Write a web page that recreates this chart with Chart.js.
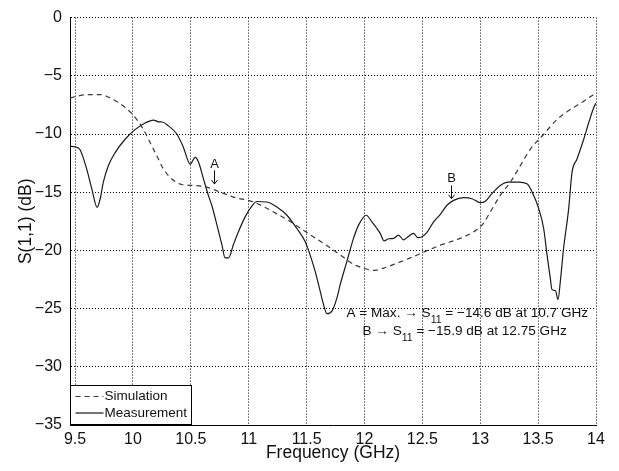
<!DOCTYPE html>
<html>
<head>
<meta charset="utf-8">
<script src="https://cdn.jsdelivr.net/npm/chart.js@4.4.1/dist/chart.umd.min.js"></script>
<style>
html, body { margin: 0; padding: 0; background: #fff; }
</style>
</head>
<body>
<canvas id="s11Chart" width="619" height="471"></canvas>
<script>
// frequency ticks and value ticks
const xTicks = [9.5, 10, 10.5, 11, 11.5, 12, 12.5, 13, 13.5, 14];
const yTicks = [0, -5, -10, -15, -20, -25, -30, -35];

// simulation (dashed)
const simFreq = [9.457, 9.52, 9.60, 9.716, 9.83, 9.917, 10.004, 10.09, 10.148, 10.206,
    10.263, 10.336, 10.422, 10.522, 10.638, 10.753, 10.868, 11.04, 11.214, 11.387,
    11.5, 11.646, 11.79, 11.905, 11.992, 12.078, 12.165, 12.28, 12.424, 12.54,
    12.655, 12.827, 12.943, 13.015, 13.087, 13.173, 13.26, 13.346, 13.433, 13.548,
    13.663, 13.778, 13.894, 14.0];
const simS11 = [-6.9, -6.75, -6.62, -6.62, -7.04, -7.6, -8.4, -9.6, -10.73, -11.87,
    -13.0, -13.86, -14.34, -14.42, -14.57, -14.99, -15.42, -15.84, -16.7, -17.7,
    -18.45, -19.4, -20.38, -21.2, -21.52, -21.72, -21.52, -21.1, -20.53, -20.02,
    -19.55, -18.97, -18.4, -17.83, -16.7, -15.27, -14.14, -12.72, -11.3, -10.02,
    -8.75, -7.9, -7.18, -6.47];

// measurement (solid)
const measFreq = [9.457, 9.50, 9.543, 9.60, 9.644, 9.69, 9.716, 9.745, 9.788, 9.846,
    9.932, 10.02, 10.105, 10.177, 10.22, 10.255, 10.306, 10.379, 10.436, 10.494,
    10.537, 10.566, 10.609, 10.652, 10.68, 10.725, 10.768, 10.796, 10.825, 10.868,
    10.911, 10.97, 11.027, 11.07, 11.157, 11.243, 11.33, 11.416, 11.488, 11.53,
    11.574, 11.617, 11.646, 11.675, 11.72, 11.762, 11.79, 11.848, 11.905, 11.949,
    12.015, 12.064, 12.108, 12.136, 12.17, 12.21, 12.251, 12.294, 12.338, 12.38,
    12.424, 12.46, 12.497, 12.54, 12.597, 12.655, 12.713, 12.77, 12.856, 12.929,
    13.0, 13.044, 13.1, 13.173, 13.245, 13.332, 13.404, 13.461, 13.505, 13.548,
    13.577, 13.605, 13.62, 13.649, 13.672, 13.692, 13.72, 13.764, 13.793, 13.836,
    13.894, 13.937, 13.98, 14.0];
const measS11 = [-11.05, -11.1, -11.35, -13.0, -14.7, -16.3, -15.6, -14.1, -12.7, -11.6,
    -10.45, -9.6, -9.05, -8.8, -8.95, -8.97, -9.3, -10.0, -11.15, -12.6,
    -12.0, -12.4, -13.85, -15.3, -16.1, -17.8, -19.5, -20.65, -20.65, -19.5,
    -18.4, -17.1, -16.2, -15.8, -15.84, -16.27, -16.98, -18.12, -19.25, -20.38,
    -21.8, -23.5, -24.64, -25.44, -25.2, -24.08, -22.94, -20.95, -18.97, -17.83,
    -16.98, -17.55, -18.12, -18.54, -19.19, -19.0, -18.97, -18.68, -19.1, -18.8,
    -18.54, -18.9, -18.82, -18.45, -17.55, -16.9, -16.12, -15.7, -15.47, -15.56,
    -15.9, -15.78, -15.13, -14.42, -14.14, -14.14, -14.28, -15.27, -16.41, -18.12,
    -20.38, -22.38, -23.37, -23.45, -24.22, -22.66, -19.82, -16.41, -13.29, -12.15,
    -10.45, -9.03, -7.75, -7.33];

const seriesNames = ['Simulation', 'Measurement'];

const FONT = "'Liberation Sans', Arial, sans-serif";

function toPoints(xs, ys) {
    return xs.map((x, i) => ({ x: x, y: ys[i] }));
}

function minusSign(v) {
    return String(v).replace('-', '\u2212');
}

// legend box in the lower left corner of the plot
const boxLegend = {
    id: 'boxLegend',
    afterDatasetsDraw(chart) {
        const ctx = chart.ctx;
        const area = chart.chartArea;
        const x0 = area.left + 0.5, y0 = area.bottom - 39.5;
        ctx.save();
        ctx.fillStyle = '#fff';
        ctx.fillRect(x0, y0, 121, 39);
        ctx.strokeStyle = '#000';
        ctx.lineWidth = 1;
        ctx.strokeRect(x0, y0, 121, 39);
        ctx.font = '13.5px ' + FONT;
        ctx.textBaseline = 'middle';
        ctx.fillStyle = '#111';
        chart.data.datasets.forEach((ds, i) => {
            const yy = y0 + 11 + i * 16.5;
            ctx.beginPath();
            ctx.strokeStyle = ds.borderColor;
            ctx.lineWidth = ds.borderWidth;
            ctx.setLineDash(ds.borderDash || []);
            ctx.moveTo(x0 + 5, yy);
            ctx.lineTo(x0 + 33, yy);
            ctx.stroke();
            ctx.setLineDash([]);
            ctx.fillText(ds.label, x0 + 34, yy);
        });
        ctx.restore();
    }
};

// A / B markers and the note with S11 values
const notes = {
    id: 'notes',
    afterDatasetsDraw(chart) {
        const ctx = chart.ctx;
        const xs = chart.scales.x, ys = chart.scales.y;
        ctx.save();
        ctx.fillStyle = '#111';
        ctx.strokeStyle = '#111';
        ctx.lineWidth = 1;

        function marker(label, f, yText, yTop, yTip) {
            const px = Math.round(xs.getPixelForValue(f)) + 0.5;
            ctx.font = '13px ' + FONT;
            ctx.textAlign = 'center';
            ctx.textBaseline = 'alphabetic';
            ctx.fillText(label, px, ys.getPixelForValue(yText));
            const t = ys.getPixelForValue(yTop), b = ys.getPixelForValue(yTip);
            ctx.beginPath();
            ctx.moveTo(px, t);
            ctx.lineTo(px, b);
            ctx.moveTo(px - 3, b - 4);
            ctx.lineTo(px, b);
            ctx.lineTo(px + 3, b - 4);
            ctx.stroke();
        }
        marker('A', 10.7, -12.92, -13.12, -14.3);
        marker('B', 12.75, -14.14, -14.42, -15.56);

        function noteLine(parts, fCenter, yBase) {
            const big = '13.6px ' + FONT, small = '10.5px ' + FONT;
            let w = 0;
            parts.forEach(p => {
                ctx.font = p.sub ? small : big;
                w += ctx.measureText(p.t).width;
            });
            let x = xs.getPixelForValue(fCenter) - w / 2;
            const y = ys.getPixelForValue(yBase);
            ctx.textAlign = 'left';
            ctx.textBaseline = 'alphabetic';
            parts.forEach(p => {
                ctx.font = p.sub ? small : big;
                ctx.fillText(p.t, x, p.sub ? y + 6 : y);
                x += ctx.measureText(p.t).width;
            });
        }
        noteLine([{ t: 'A = Max. \u2192 S' }, { t: '11', sub: true },
                  { t: ' = \u221214.6 dB at 10.7 GHz' }], 12.888, -25.72);
        noteLine([{ t: 'B \u2192 S' }, { t: '11', sub: true },
                  { t: ' = \u221215.9 dB at 12.75 GHz' }], 12.865, -27.28);
        ctx.restore();
    }
};

const ctx = document.getElementById('s11Chart').getContext('2d');
new Chart(ctx, {
    type: 'line',
    data: {
        datasets: [{
            label: seriesNames[0],
            data: toPoints(simFreq, simS11),
            borderColor: '#3a3a3a',
            borderWidth: 1.2,
            borderDash: [5, 4],
            pointRadius: 0,
            cubicInterpolationMode: 'monotone',
            fill: false
        }, {
            label: seriesNames[1],
            data: toPoints(measFreq, measS11),
            borderColor: '#1a1a1a',
            borderWidth: 1.2,
            pointRadius: 0,
            cubicInterpolationMode: 'monotone',
            fill: false
        }]
    },
    options: {
        responsive: false,
        animation: false,
        devicePixelRatio: 1,
        layout: { padding: { top: 14, right: 23, left: 0, bottom: 0 } },
        plugins: {
            legend: { display: false },
            tooltip: { enabled: false }
        },
        scales: {
            x: {
                type: 'linear',
                min: 9.456,
                max: 14,
                afterBuildTicks: (scale) => { scale.ticks = xTicks.map(v => ({ value: v })); },
                afterFit: (scale) => { scale.height = 46; },
                grid: { color: '#000', lineWidth: 1, drawTicks: false },
                border: { display: true, color: '#000', width: 1, dash: [1, 2] },
                ticks: {
                    font: { family: FONT, size: 16 },
                    color: '#111',
                    padding: 5,
                    maxRotation: 0,
                    autoSkip: false,
                    callback: (v) => minusSign(v)
                },
                title: {
                    display: true,
                    text: 'Frequency (GHz)',
                    font: { family: FONT, size: 17.5 },
                    color: '#111',
                    padding: { top: 0, bottom: 7 }
                }
            },
            y: {
                type: 'linear',
                min: -35,
                max: 0,
                afterBuildTicks: (scale) => { scale.ticks = yTicks.map(v => ({ value: v })); },
                afterFit: (scale) => { scale.width = 70; },
                grid: { color: '#000', lineWidth: 1, drawTicks: false },
                border: { display: true, color: '#000', width: 1, dash: [1, 2] },
                ticks: {
                    font: { family: FONT, size: 16 },
                    color: '#111',
                    padding: 8,
                    callback: (v) => minusSign(v)
                },
                title: {
                    display: true,
                    text: 'S(1,1) (dB)',
                    font: { family: FONT, size: 17.5 },
                    color: '#111',
                    padding: { top: 16, bottom: 0 }
                }
            }
        }
    },
    plugins: [boxLegend, notes]
});
</script>
</body>
</html>
